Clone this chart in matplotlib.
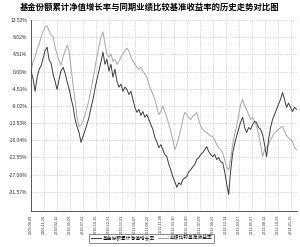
# -*- coding: utf-8 -*-
"""
基金份额累计净值增长率与业绩比较基准收益率对比图
"""
import numpy as np
import matplotlib
matplotlib.use('Agg')
import matplotlib.pyplot as plt

plt.rcParams['font.family'] = ['Noto Sans CJK SC', 'DejaVu Sans']

TITULO = '基金份额累计净值增长率与同期业绩比较基准收益率的历史走势对比图'
SERIE_FONDO = '基金份额累计净值增长率'
SERIE_BASE = '业绩比较基准收益率'

# muestra cada 8 dias de negociacion
PASO = 8
FONDO = [0.1, -2.0, -5.2, -1.5, 0.6, 1.5, 3.5, 5.5, 6.4, 3.0,
         2.2, -0.7, -2.6, -4.7, -2.0, 0.2, 1.1, -0.4, -2.6, -4.5,
         -7.0, -9.2, -12.5, -14.5, -16.0, -18.6, -17.0, -15.5, -13.8, -12.0,
         -9.5, -7.3, -4.5, -2.0, 0.2, 2.5, 5.1, 1.9, 3.2, 0.1,
         1.9, -1.5, 0.6, -2.6, -4.1, -3.3, -5.2, -4.1, -4.7, -6.0,
         -5.2, -7.3, -9.4, -10.7, -9.9, -11.5, -10.5, -12.0, -11.3, -12.6,
         -13.9, -15.2, -17.3, -18.4, -20.0, -19.2, -20.5, -21.8, -22.3, -24.4,
         -25.8, -27.6, -28.9, -30.4, -29.2, -29.7, -28.4, -27.9, -27.6, -26.3,
         -25.8, -25.0, -24.4, -23.1, -22.6, -21.8, -21.3, -20.5, -19.7, -21.0,
         -21.8, -22.3, -21.8, -23.1, -22.6, -23.7, -23.9, -26.3, -29.5, -32.3,
         -26.0, -21.5, -19.0, -17.0, -15.0, -13.3, -12.0, -14.7, -16.0, -14.7,
         -15.2, -13.9, -13.1, -13.4, -14.7, -15.2, -16.5, -19.2, -22.3, -17.9,
         -14.7, -12.6, -11.3, -9.9, -8.6, -7.3, -5.5, -7.3, -9.4, -8.3,
         -9.4, -10.5, -9.4, -9.9]
BASE = [0.1, 2.7, 3.8, 5.9, 7.2, 9.1, 10.6, 11.7, 12.0, 10.6,
        9.6, 9.1, 6.4, 4.6, 2.7, 1.7, 3.8, 5.4, 6.9, 5.5,
        1.0, -3.5, -7.5, -12.0, -14.5, -14.0, -13.0, -11.2, -9.5, -7.3,
        -4.7, -2.0, 1.0, 4.0, 6.7, 9.0, 10.4, 7.2, 4.6, 3.8,
        4.6, 2.7, 3.2, 1.9, 2.7, 3.8, 4.6, 5.4, 6.1, 5.4,
        3.8, 2.7, 1.9, 1.1, 0.6, 1.1, 0.1, -0.7, -1.5, -3.3,
        -4.7, -6.0, -7.3, -9.4, -11.3, -10.5, -9.1, -10.5, -12.0, -13.9,
        -15.7, -17.9, -20.5, -19.2, -17.3, -15.2, -12.6, -10.7, -11.3, -12.0,
        -12.6, -11.8, -11.3, -10.7, -12.6, -14.4, -15.2, -15.7, -16.0, -16.5,
        -17.0, -17.0, -17.9, -19.2, -20.0, -20.5, -21.3, -23.1, -25.0, -25.8,
        -23.1, -19.2, -16.5, -14.4, -11.3, -8.6, -7.3, -9.0, -10.0, -11.3,
        -12.6, -12.0, -13.1, -14.4, -16.5, -19.2, -22.3, -20.5, -20.0, -19.2,
        -17.9, -17.0, -16.0, -15.7, -15.2, -14.7, -14.4, -15.7, -16.8, -17.3,
        -17.9, -18.4, -20.0, -20.5]

FECHAS = ['2009-09-09', '2009-11-26', '2010-02-12', '2010-05-06', '2010-07-22',
          '2010-10-15', '2010-12-31', '2011-03-21', '2011-06-07', '2011-08-22',
          '2011-11-08', '2012-01-30', '2012-04-20', '2012-07-09', '2012-09-21',
          '2012-12-14', '2013-03-07', '2013-05-27', '2013-08-12', '2013-10-29',
          '2014-01-16']
DIAS_ENTRE_FECHAS = 52
MARCAS_Y = [13.53, 9.02, 4.51, 0.00, -4.51, -9.02, -13.53, -18.04, -22.55, -27.06, -31.57]

x = np.arange(len(FONDO)) * PASO

fig = plt.figure(figsize=(3.0, 2.47), dpi=100)
ax = fig.add_axes([0.103, 0.146, 0.887, 0.773])

ax.plot(x, FONDO, color='#3c3c3c', lw=0.7, label=SERIE_FONDO, zorder=3)
ax.plot(x, BASE, color='#a6a6a6', lw=0.7, label=SERIE_BASE, zorder=2)

ax.set_xlim(-1, x[-1] + 2)
ax.set_ylim(-36.6, 13.53)
ax.set_xticks(np.arange(len(FECHAS)) * DIAS_ENTRE_FECHAS)
ax.set_xticklabels(FECHAS, rotation=90, fontsize=2.7, color='#333333',
                   family='Liberation Sans')
ax.set_yticks(MARCAS_Y)
ax.set_yticklabels(['%.2f%%' % v for v in MARCAS_Y], fontsize=3.6,
                   color='#333333', family='Liberation Sans')
ax.tick_params(length=0, pad=2.5)

ax.grid(True, linestyle=':', color='#b0b0b0', lw=0.5)
for lado in ['top', 'right']:
    ax.spines[lado].set_visible(False)
for lado in ['left', 'bottom']:
    ax.spines[lado].set_color('#555555')
    ax.spines[lado].set_linewidth(0.7)

fig.text(0.5, 0.972, TITULO, ha='center', va='center', fontsize=6,
         fontweight='bold')

leg = fig.legend(loc='center', bbox_to_anchor=(0.505, 0.036), ncol=2,
                 fontsize=3.4, frameon=True, fancybox=False,
                 handlelength=2.2, handletextpad=0.3, columnspacing=0.6,
                 borderpad=0.4)
leg.get_frame().set_edgecolor('#333333')
leg.get_frame().set_linewidth(0.5)

fig.savefig('out.png', dpi=100)
